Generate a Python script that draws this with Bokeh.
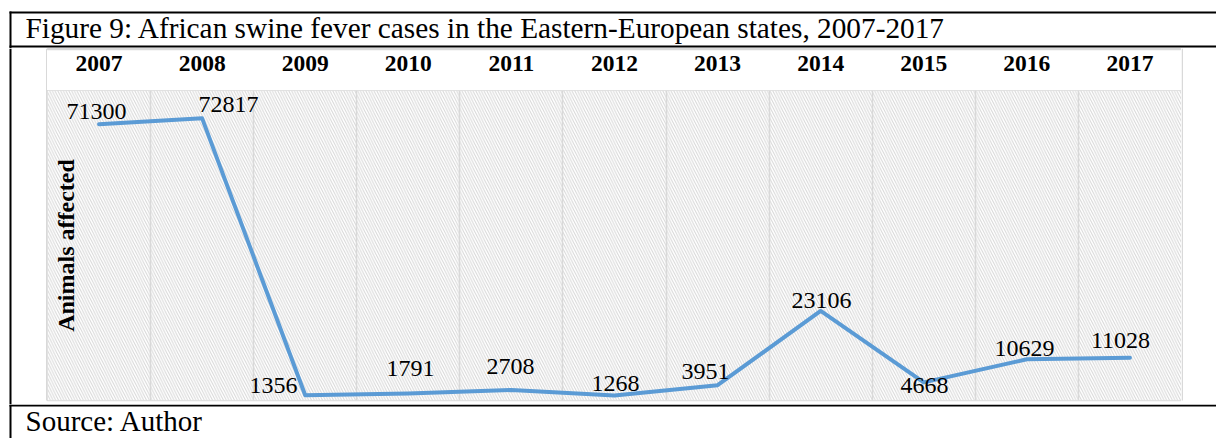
import math
from bokeh.plotting import figure
from bokeh.layouts import column, row
from bokeh.models import (ColumnDataSource, BoxAnnotation, Label, FixedTicker,
                          FactorRange, Range1d)
from bokeh.core.properties import value
from bokeh.embed import file_html
from bokeh.resources import INLINE

# ---- data ----
years = ["2007", "2008", "2009", "2010", "2011", "2012",
         "2013", "2014", "2015", "2016", "2017"]
cases = [71300, 72817, 1356, 1791, 2708, 1268, 3951, 23106, 4668, 10629, 11028]
case_labels = [str(v) for v in cases]
title_text = "Figure 9: African swine fever cases in the Eastern-European states, 2007-2017"
source_text = "Source: Author"
y_title = "Animals affected"
y_max = 80000

# label placement (pixel offsets, relative to each point)
label_dx = [-2.5, 26.4, -31.7, 2.2, -0.9, 1.0, -12.1, 0.8, 0.7, -2.4, -9.5]
label_dy = [-12.7, -14.3, -10.2, -24.6, -23.5, -11.6, -13.2, -10.0, 2.6, -11.3, -16.8]

FONT = "Liberation Serif"
W = 1216
BLACK = "black"
GREY = "#d9d9d9"


def panel(w, h):
    f = figure(width=w, height=h, x_range=Range1d(0, w), y_range=Range1d(h, 0),
               x_axis_location=None, y_axis_location=None, output_backend="svg",
               toolbar_location=None, min_border=0)
    f.grid.visible = False
    f.outline_line_color = None
    f.background_fill_color = "white"
    f.border_fill_color = "white"
    return f


def bar(f, l, r, t, b, color):
    f.quad(left=[l], right=[r], top=[t], bottom=[b], fill_color=color,
           line_color=None)


# ---- header: title row ----
head = panel(W, 48)
bar(head, 9, W, 11, 13, BLACK)
bar(head, 9, W, 45, 47, BLACK)
bar(head, 9, 11, 11, 48, BLACK)
head.add_layout(Label(x=25, y=27.9, text=title_text, text_font=FONT,
                      text_font_size="29.3px", text_baseline="alphabetic",
                      text_align="left", text_color="black"))

# ---- side strips ----
left = panel(47, 356)
bar(left, 9, 11, 0, 356, BLACK)
bar(left, 45.5, 47, 0, 352, GREY)
right = panel(35, 356)
bar(right, 0, 1.5, 0, 352, GREY)

# ---- chart ----
xr = FactorRange(factors=years, range_padding=0)

band = figure(width=1134, height=42, x_range=xr, y_range=Range1d(0, 1),
              x_axis_location="below", y_axis_location=None,
              output_backend="svg", toolbar_location=None,
              min_border=0, min_border_bottom=41)
band.grid.visible = False
band.outline_line_color = GREY
band.outline_line_width = 1.5
band.background_fill_color = "white"
band.border_fill_color = "white"
ax = band.xaxis[0]
ax.axis_line_color = None
ax.major_tick_line_color = None
ax.minor_tick_line_color = None
ax.major_tick_out = 0
ax.major_tick_in = 0
ax.major_label_text_font = FONT
ax.major_label_text_font_style = "bold"
ax.major_label_text_font_size = "23.5px"
ax.major_label_text_color = "black"
ax.major_label_standoff = 6

p = figure(width=1134, height=314, x_range=xr, y_range=Range1d(0, y_max),
           x_axis_location=None, y_axis_location=None,
           output_backend="svg", toolbar_location=None,
           min_border=0, min_border_bottom=4)
p.background_fill_color = "white"
p.border_fill_color = "white"
p.outline_line_color = GREY
p.outline_line_width = 1.5

p.add_layout(BoxAnnotation(fill_color="white", fill_alpha=1.0, line_color=None,
                           hatch_pattern="left_diagonal_line", hatch_color="#d6d6d6",
                           hatch_scale=5.5, hatch_weight=1, hatch_alpha=1.0,
                           level="image"))

p.xgrid.ticker = FixedTicker(ticks=list(range(1, len(years))))
p.xgrid.grid_line_color = GREY
p.xgrid.grid_line_width = 1.5
p.ygrid.visible = False

src = ColumnDataSource(dict(year=years, cases=cases, label=case_labels,
                            dx=label_dx, dy=label_dy))
p.line(x="year", y="cases", source=src, line_color="#5b9bd5", line_width=4,
       line_join="round", line_cap="round")
p.text(x="year", y="cases", text="label", source=src, x_offset="dx", y_offset="dy",
       text_font=value(FONT), text_font_size="24px", text_align="center",
       text_baseline="alphabetic", text_color="black")

p.add_layout(Label(x=18, y=155, x_units="screen", y_units="screen",
                   text=y_title, text_font=FONT, text_font_size="24px",
                   text_font_style="bold", angle=math.pi / 2,
                   text_baseline="middle", text_align="center", text_color="black"))

# ---- footer: source row ----
foot = panel(W, 34)
bar(foot, 9, W, 0, 2, BLACK)
bar(foot, 9, 11, 0, 34, BLACK)
foot.add_layout(Label(x=25, y=16.9, text=source_text, text_font=FONT,
                      text_font_size="29px", text_baseline="alphabetic",
                      text_align="left", text_color="black"))

layout = column(head, row(left, column(band, p), right), foot)

open("out.html", "w").write(file_html(layout, INLINE))
